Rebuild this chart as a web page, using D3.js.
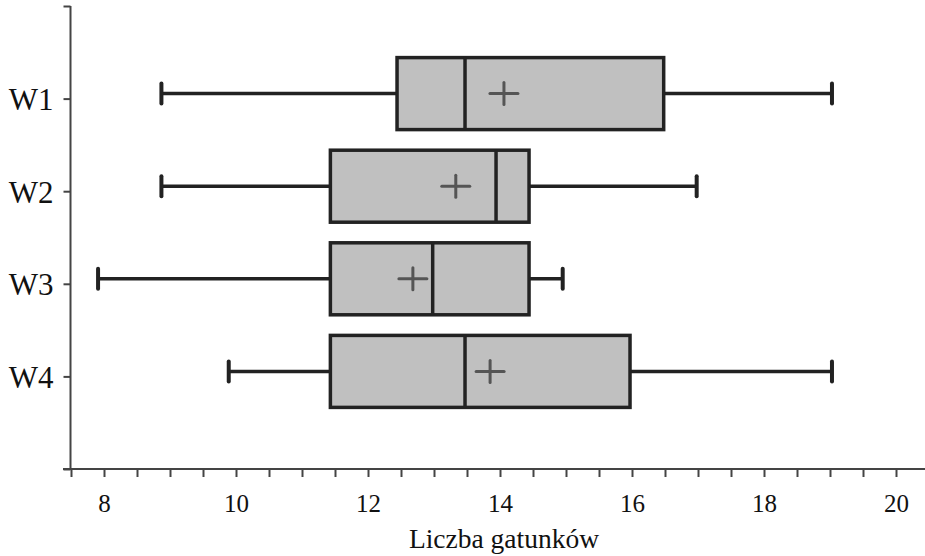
<!DOCTYPE html>
<html>
<head>
<meta charset="utf-8">
<script src="https://cdn.jsdelivr.net/npm/d3@7"></script>
<style>
  html, body { margin: 0; padding: 0; background: #fff; }
  svg { display: block; }
</style>
</head>
<body>
<svg id="chart" width="925" height="556"></svg>
<script>
// ---- data ----
const categories = ["W1", "W2", "W3", "W4"];
const whiskerLow  = [8.87, 8.87, 7.91, 9.89];
const q1Values    = [12.44, 11.43, 11.43, 11.43];
const medians     = [13.47, 13.94, 12.98, 13.47];
const means       = [14.06, 13.33, 12.68, 13.85];
const q3Values    = [16.48, 14.44, 14.44, 15.97];
const whiskerHigh = [19.03, 16.98, 14.95, 19.03];
const xTickValues = d3.range(7.5, 20.01, 0.5);
const xLabelValues = [8, 10, 12, 14, 16, 18, 20];
const xTitle = "Liczba gatunków";

const FONT = "'Liberation Serif', 'DejaVu Serif', serif";
const svg = d3.select("#chart");
const x = d3.scaleLinear().domain([8, 20]).range([104, 896]);
const y = d3.scaleLinear().domain([0, 5]).range([6, 469]);
const axisColor = "#444";
const dark = "#222";

// x axis
const xAxis = d3.axisBottom(x)
  .tickValues(xTickValues)
  .tickSize(8)
  .tickSizeOuter(0)
  .tickFormat(d => xLabelValues.includes(d) ? d3.format("d")(d) : "");
const gx = svg.append("g").attr("transform", `translate(0,${y(5)})`).call(xAxis)
  .attr("font-family", null);
gx.select(".domain").remove();
gx.selectAll(".tick line").attr("stroke", axisColor).attr("stroke-width", 2);
gx.selectAll(".tick text").attr("y", 43).attr("dy", 0)
  .style("font-family", FONT).style("font-size", "25px").attr("fill", "#111");
svg.append("line").attr("x1", 63).attr("x2", 925)
  .attr("y1", y(5)).attr("y2", y(5)).attr("stroke", axisColor).attr("stroke-width", 2);

// y axis
const yAxis = d3.axisLeft(y)
  .tickValues([0, 1, 2, 3, 4, 5])
  .tickSize(7)
  .tickSizeOuter(0)
  .tickFormat(d => (d >= 1 && d <= 4) ? categories[d - 1] : "");
const gy = svg.append("g").attr("transform", `translate(${x(7.5) - 0.5},0)`).call(yAxis)
  .attr("font-family", null);
gy.select(".domain").remove();
gy.selectAll(".tick line").attr("stroke", axisColor).attr("stroke-width", 2);
gy.selectAll(".tick text").attr("x", -17).attr("dy", 11)
  .style("font-family", FONT).style("font-size", "31px").attr("fill", "#111");
svg.append("line").attr("x1", x(7.5) - 0.5).attr("x2", x(7.5) - 0.5)
  .attr("y1", y(0)).attr("y2", y(5)).attr("stroke", axisColor).attr("stroke-width", 2);

// x title
svg.append("text").attr("x", 504).attr("y", 548).attr("text-anchor", "middle")
  .style("font-family", FONT).style("font-size", "27.5px").attr("fill", "#111").text(xTitle);

// boxes
const halfBox = 36, capHalf = 10, offset = -5;
const g = svg.append("g");
categories.forEach((c, i) => {
  const cy = y(i + 1) + offset;
  g.append("line").attr("x1", x(whiskerLow[i])).attr("x2", x(q1Values[i]))
    .attr("y1", cy).attr("y2", cy).attr("stroke", dark).attr("stroke-width", 3.5);
  g.append("line").attr("x1", x(q3Values[i])).attr("x2", x(whiskerHigh[i]))
    .attr("y1", cy).attr("y2", cy).attr("stroke", dark).attr("stroke-width", 3.5);
  [whiskerLow[i], whiskerHigh[i]].forEach(v => {
    g.append("line").attr("x1", x(v)).attr("x2", x(v))
      .attr("y1", cy - capHalf).attr("y2", cy + capHalf)
      .attr("stroke", dark).attr("stroke-width", 4).attr("stroke-linecap", "round");
  });
  g.append("rect").attr("x", x(q1Values[i])).attr("y", cy - halfBox)
    .attr("width", x(q3Values[i]) - x(q1Values[i])).attr("height", 2 * halfBox)
    .attr("fill", "#c0c0c0").attr("stroke", dark).attr("stroke-width", 3.5);
  g.append("line").attr("x1", x(medians[i])).attr("x2", x(medians[i]))
    .attr("y1", cy - halfBox).attr("y2", cy + halfBox)
    .attr("stroke", dark).attr("stroke-width", 3.5);
  const mx = x(means[i]);
  g.append("line").attr("x1", mx - 14).attr("x2", mx + 14).attr("y1", cy).attr("y2", cy)
    .attr("stroke", "#555").attr("stroke-width", 3).attr("stroke-linecap", "round");
  g.append("line").attr("x1", mx).attr("x2", mx).attr("y1", cy - 11).attr("y2", cy + 11)
    .attr("stroke", "#555").attr("stroke-width", 3).attr("stroke-linecap", "round");
});
</script>
</body>
</html>
